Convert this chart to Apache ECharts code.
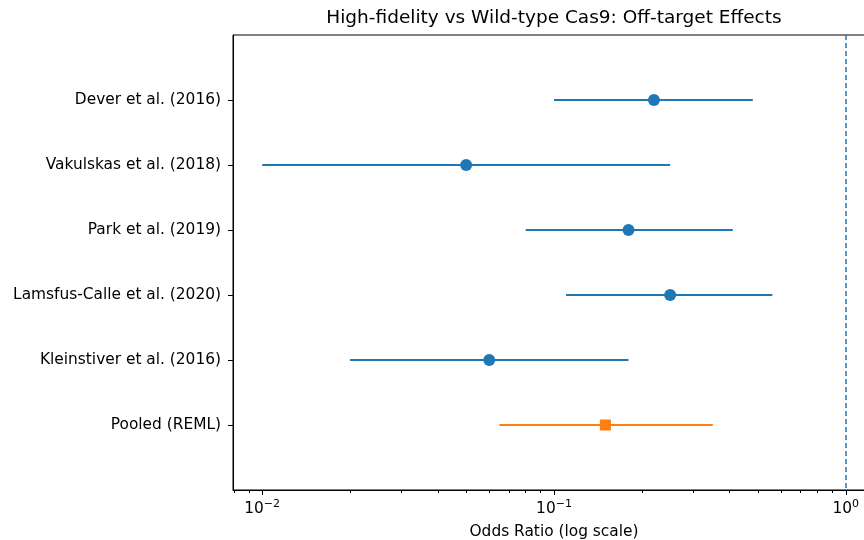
<!DOCTYPE html>
<html>
<head>
<meta charset="utf-8">
<script src="https://cdn.jsdelivr.net/npm/echarts@6/dist/echarts.min.js"></script>
<style>html,body{margin:0;padding:0;background:#fff}#c{width:864px;height:540px}</style>
</head>
<body>
<div id="c"></div>
<script>
const studies = ['Dever et al. (2016)', 'Vakulskas et al. (2018)', 'Park et al. (2019)', 'Lamsfus-Calle et al. (2020)', 'Kleinstiver et al. (2016)'];
const oddsRatios = [0.22, 0.05, 0.18, 0.25, 0.06];
const ciLow = [0.10, 0.01, 0.08, 0.11, 0.02];
const ciHigh = [0.48, 0.25, 0.41, 0.56, 0.18];
const pooledLabel = 'Pooled (REML)';
const pooledOR = [0.15];
const pooledLow = [0.065];
const pooledHigh = [0.35];
const majorTicks = [0.01, 0.1, 1];
const minorTicks = [0.008, 0.009, 0.02, 0.03, 0.04, 0.05, 0.06, 0.07, 0.08, 0.09, 0.2, 0.3, 0.4, 0.5, 0.6, 0.7, 0.8, 0.9];
const xMin = Math.pow(10, -2.1);
const xMax = Math.pow(10, 0.1);
const nullLine = 1;

const categories = [' '].concat(studies, [pooledLabel], ['  ']);

const FONT = 'DejaVu Sans';
const BLUE = '#1f77b4';
const ORANGE = '#ff7f0e';
const FS = 15.4;

function ciRender(color) {
  return function (params, api) {
    const y = api.value(2);
    const p1 = api.coord([api.value(0), y]);
    const p2 = api.coord([api.value(1), y]);
    return {
      type: 'line',
      shape: { x1: p1[0], y1: p1[1], x2: p2[0], y2: p2[1] },
      style: { stroke: color, lineWidth: 2 }
    };
  };
}

const studyCI = studies.map((s, i) => [ciLow[i], ciHigh[i], i + 1]);
const studyPts = studies.map((s, i) => [oddsRatios[i], i + 1]);
const pooledCI = pooledOR.map((v, i) => [pooledLow[i], pooledHigh[i], studies.length + 1]);
const pooledPts = pooledOR.map(v => [v, studies.length + 1]);

const expMap = ['\u22122', '\u22121', '0'];

const chart = echarts.init(document.getElementById('c'), null, { renderer: 'canvas' });
chart.setOption({
  animation: false,
  backgroundColor: '#fff',
  textStyle: { fontFamily: FONT },
  title: {
    text: 'High-fidelity vs Wild-type Cas9: Off-target Effects',
    left: 554, top: 9, textAlign: 'center', padding: 0,
    textStyle: { fontFamily: FONT, fontSize: 18.5, fontWeight: 'normal', color: '#000' }
  },
  grid: {
    left: 233, top: 35, width: 642, height: 455,
    outerBoundsMode: 'none', containLabel: false,
    show: true, borderColor: '#000', borderWidth: 1, backgroundColor: 'transparent'
  },
  xAxis: [{
    type: 'log', logBase: 10, min: xMin, max: xMax, position: 'bottom',
    axisLine: { show: true, lineStyle: { color: '#000', width: 1 } },
    axisTick: { show: true, customValues: majorTicks, length: 5, lineStyle: { color: '#000' } },
    axisLabel: {
      customValues: majorTicks, margin: 9, color: '#000', hideOverlap: false,
      formatter: function (v) {
        const e = Math.round(Math.log10(v));
        return '{b|10}{s|' + expMap[e + 2] + '}';
      },
      rich: {
        b: { fontFamily: FONT, fontSize: FS, color: '#000' },
        s: { fontFamily: FONT, fontSize: 11, color: '#000', padding: [0, 0, 8, 0] }
      }
    },
    splitLine: { show: false },
    name: 'Odds Ratio (log scale)', nameLocation: 'middle', nameGap: 34,
    nameTextStyle: { fontFamily: FONT, fontSize: FS, color: '#000' }
  }, {
    type: 'log', logBase: 10, min: xMin, max: xMax, position: 'bottom',
    axisLine: { show: false },
    axisTick: { show: true, customValues: minorTicks, length: 3, lineStyle: { color: '#000' } },
    axisLabel: { show: false },
    splitLine: { show: false }
  }],
  yAxis: {
    type: 'category', data: categories, inverse: true, boundaryGap: false,
    axisLine: { show: true, lineStyle: { color: '#000', width: 1 } },
    axisTick: { show: true, length: 5, lineStyle: { color: '#000' }, interval: function (i, v) { return v.trim() !== ''; } },
    axisLabel: { margin: 12, fontFamily: FONT, fontSize: FS, color: '#000', interval: function (i, v) { return v.trim() !== ''; } },
    splitLine: { show: false }
  },
  series: [{
    type: 'custom', name: 'ci', xAxisIndex: 0, yAxisIndex: 0, renderItem: ciRender(BLUE),
    encode: { x: [0, 1], y: 2 }, data: studyCI, z: 2
  }, {
    type: 'scatter', name: 'or', xAxisIndex: 0, yAxisIndex: 0, data: studyPts, symbol: 'circle', symbolSize: 12,
    itemStyle: { color: BLUE, opacity: 1 }, z: 3,
    markLine: {
      silent: true, symbol: 'none', label: { show: false }, animation: false,
      lineStyle: { color: BLUE, type: [5, 3], width: 1.5, opacity: 1 },
      emphasis: { disabled: true },
      data: [{ xAxis: nullLine }]
    }
  }, {
    type: 'custom', name: 'pooledci', xAxisIndex: 0, yAxisIndex: 0, renderItem: ciRender(ORANGE),
    encode: { x: [0, 1], y: 2 }, data: pooledCI, z: 2
  }, {
    type: 'scatter', name: 'pooled', xAxisIndex: 0, yAxisIndex: 0, data: pooledPts, symbol: 'rect', symbolSize: 11,
    itemStyle: { color: ORANGE, opacity: 1 }, z: 3
  }]
});
</script>
</body>
</html>
